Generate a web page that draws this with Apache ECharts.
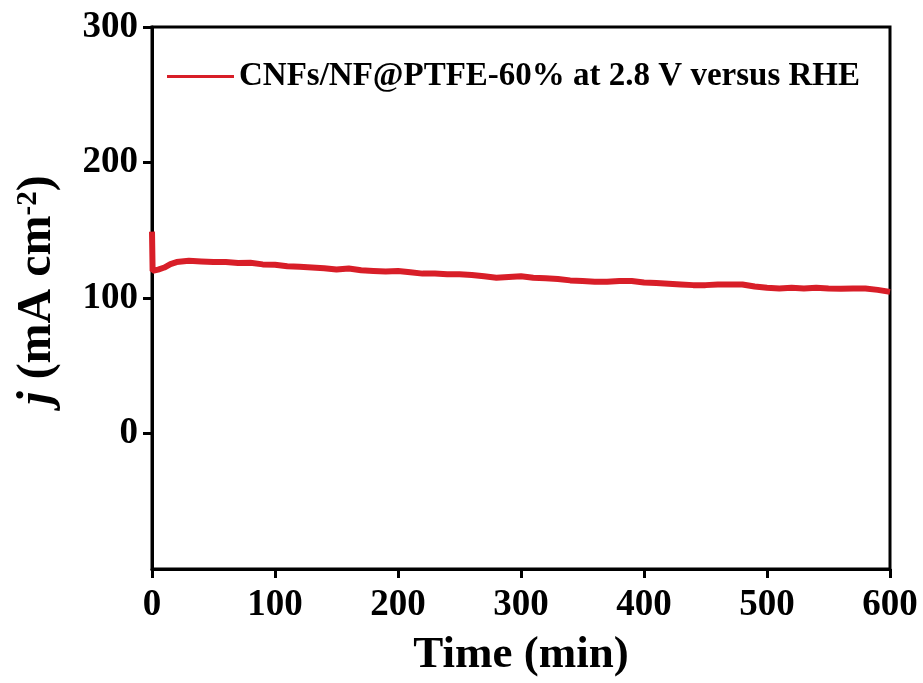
<!DOCTYPE html>
<html>
<head>
<meta charset="utf-8">
<script src="https://cdn.jsdelivr.net/npm/echarts@6/dist/echarts.min.js"></script>
<style>html,body{margin:0;padding:0;background:#fff}#c{width:923px;height:683px}</style>
</head>
<body>
<div id="c"></div>
<script>
var seriesName = 'CNFs/NF@PTFE-60% at 2.8 V versus RHE';
var timeMin = [0, 0.5, 5, 10, 15, 20, 30, 40, 50, 60, 70, 80, 90, 100, 110, 120, 130, 140, 150, 160, 170, 180, 190, 200, 210, 220, 230, 240, 250, 260, 270, 280, 290, 300, 310, 320, 330, 340, 350, 360, 370, 380, 390, 400, 410, 420, 430, 440, 450, 460, 470, 480, 490, 500, 510, 520, 530, 540, 550, 560, 570, 580, 590, 600];
var currentDensity = [149, 120, 121, 122.5, 125, 126.5, 127.5, 127, 126.5, 126.5, 125.8, 126, 124.8, 124.5, 123.5, 123, 122.5, 122, 121, 121.8, 120.5, 120, 119.5, 120, 119, 118, 118, 117.5, 117.5, 117, 116, 115, 115.5, 116, 115, 114.5, 114, 113, 112.5, 112, 112, 112.5, 112.5, 111.5, 111, 110.5, 110, 109.5, 109.5, 110, 110, 110, 108.5, 107.5, 107, 107.5, 107, 107.5, 107, 106.8, 107, 107, 106, 104.5];
var xTicks = [0, 100, 200, 300, 400, 500, 600];
var yTicks = [0, 100, 200, 300];

var points = timeMin.map(function (t, i) { return [t, currentDensity[i]]; });
var FONT = '"Liberation Serif", "Times New Roman", serif';
var chart = echarts.init(document.getElementById('c'), null, {renderer: 'canvas'});
chart.setOption({
  animation: false,
  backgroundColor: '#fff',
  grid: {left: 152, right: 33, top: 27, bottom: 110, show: true, borderColor: '#000', borderWidth: 3},
  legend: {
    data: [{name: seriesName, icon: 'rect'}],
    left: 162, top: 55,
    itemWidth: 67, itemHeight: 3, itemGap: 10,
    textStyle: {fontFamily: FONT, fontWeight: 'bold', fontSize: 33, color: '#000'}
  },
  xAxis: {
    type: 'value', min: 0, max: 600, interval: 100,
    name: 'Time (min)', nameLocation: 'middle', nameGap: 64,
    nameTextStyle: {fontFamily: FONT, fontWeight: 'bold', fontSize: 45, color: '#000'},
    axisLine: {show: true, onZero: false, lineStyle: {color: '#000', width: 3}},
    axisTick: {show: true, inside: false, length: 9, lineStyle: {color: '#000', width: 3}},
    axisLabel: {fontFamily: FONT, fontWeight: 'bold', fontSize: 37, color: '#000', margin: 18,
      customValues: xTicks},
    splitLine: {show: false}
  },
  yAxis: {
    type: 'value', min: -100, max: 300, interval: 100,
    name: '{i|j} (mA cm{s|-2})', nameLocation: 'middle', nameGap: 90, nameRotate: 90,
    nameTextStyle: {fontFamily: FONT, fontWeight: 'bold', fontSize: 48, color: '#000',
      padding: [0, 0, 0, 16],
      rich: {
        i: {fontFamily: FONT, fontWeight: 'bold', fontStyle: 'italic', fontSize: 48, color: '#000'},
        s: {fontFamily: FONT, fontWeight: 'bold', fontSize: 29, color: '#000', verticalAlign: 'top', padding: [0, 0, 18, 0]}
      }},
    axisLine: {show: true, onZero: false, lineStyle: {color: '#000', width: 3}},
    axisTick: {show: true, inside: false, length: 9, lineStyle: {color: '#000', width: 3}, customValues: yTicks},
    axisLabel: {fontFamily: FONT, fontWeight: 'bold', fontSize: 37, color: '#000', margin: 14, customValues: yTicks},
    splitLine: {show: false}
  },
  series: [{
    name: seriesName,
    type: 'line',
    data: points,
    showSymbol: false,
    symbol: 'none',
    smooth: false,
    lineStyle: {color: '#d81e28', width: 6},
    itemStyle: {color: '#d81e28'}
  }]
});
</script>
</body>
</html>
